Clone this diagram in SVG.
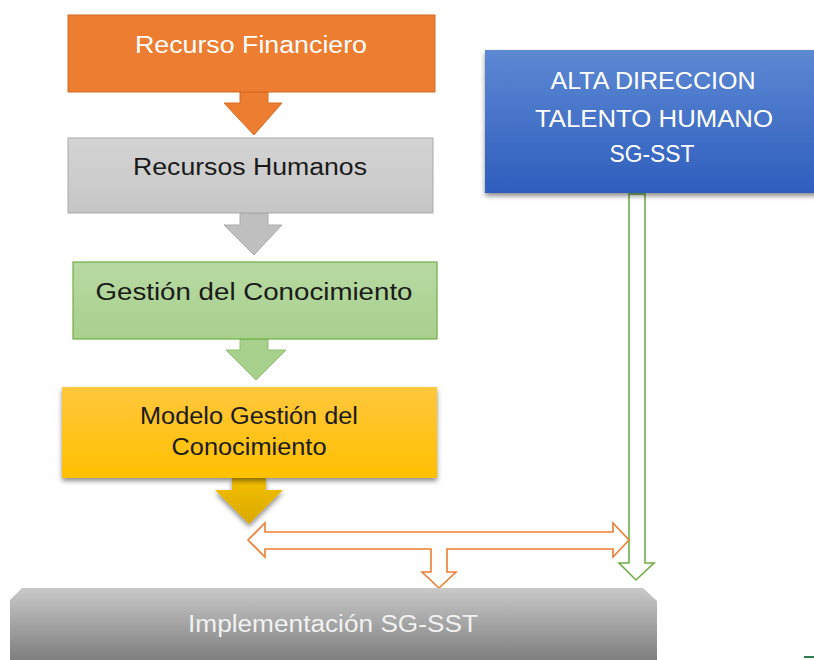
<svg xmlns="http://www.w3.org/2000/svg" width="814" height="660" viewBox="0 0 814 660">
<defs>
<linearGradient id="gGreen" x1="0" y1="0" x2="0" y2="1"><stop offset="0" stop-color="#B7D9A2"/><stop offset="1" stop-color="#A8D08D"/></linearGradient>
<linearGradient id="gYellow" x1="0" y1="0" x2="0" y2="1"><stop offset="0" stop-color="#FFC73D"/><stop offset="1" stop-color="#FFC000"/></linearGradient>
<linearGradient id="gYArrow" x1="0" y1="0" x2="0" y2="1"><stop offset="0" stop-color="#F3BF00"/><stop offset="1" stop-color="#D9A900"/></linearGradient>
<linearGradient id="gBlue" x1="0" y1="0" x2="0" y2="1"><stop offset="0" stop-color="#5D88D3"/><stop offset="1" stop-color="#2E5EBD"/></linearGradient>
<linearGradient id="gImpl" x1="0" y1="0" x2="0" y2="1"><stop offset="0" stop-color="#C9C9C9"/><stop offset="1" stop-color="#7F7F7F"/></linearGradient>
<linearGradient id="gGray" x1="0" y1="0" x2="0" y2="1"><stop offset="0" stop-color="#D4D4D4"/><stop offset="1" stop-color="#C6C6C6"/></linearGradient>
<filter id="sh" x="-10%" y="-10%" width="120%" height="130%"><feDropShadow dx="0" dy="3" stdDeviation="2.5" flood-color="#000" flood-opacity="0.45"/></filter>
</defs>
<style>
.t{font-family:"Liberation Sans",Arial,sans-serif;font-size:23px;text-anchor:middle}
.w{fill:#FFFFFF}
.k{fill:#1A1A1A}
.lw{fill:#F2F2F2}
</style>
<g id="connectors">
<path d="M240,92 H268 V103 H282 L254,135 L224,103 H240 Z" fill="#ED7D31" stroke="#D86D25" stroke-width="1"/>
<path d="M240,213 H268 V225 H282 L254,255 L224,225 H240 Z" fill="#BFBFBF" stroke="#ABABAB" stroke-width="1"/>
<path d="M240,339 H268 V350 H286 L256,380 L226,350 H240 Z" fill="#A8D08D" stroke="#8CBF6C" stroke-width="1"/>
<path d="M232,478 H266 V490 H283 L249,524 L215,490 H232 Z" fill="url(#gYArrow)" filter="url(#sh)"/>
<path d="M629,194 H645 V563 H654 L636,580 L619,563 H629 Z" fill="#FFFFFF" stroke="#70AD47" stroke-width="1.6"/>
<path d="M248,540 L265,523 V532 H613 V523 L629,540 L613,557 V549 H447 V572 H456 L439,588 L422,572 H431 V549 H265 V557 Z" fill="#FFFFFF" stroke="#ED7D31" stroke-width="1.6" stroke-linejoin="miter"/>
</g>
<g id="recurso-financiero">
<rect x="68" y="15" width="367" height="77" fill="#ED7D31" stroke="#D46A22" stroke-width="1"/>
<text class="t w" x="251" y="53" textLength="232" lengthAdjust="spacingAndGlyphs">Recurso Financiero</text>
</g>
<g id="recursos-humanos">
<rect x="68" y="138" width="365" height="75" fill="url(#gGray)" stroke="#A9A9A9" stroke-width="1"/>
<text class="t k" x="250" y="175" textLength="234" lengthAdjust="spacingAndGlyphs">Recursos Humanos</text>
</g>
<g id="gestion-conocimiento">
<rect x="73" y="262" width="364" height="77" fill="url(#gGreen)" stroke="#70AD47" stroke-width="1.2"/>
<text class="t k" x="254" y="300" textLength="317" lengthAdjust="spacingAndGlyphs">Gestión del Conocimiento</text>
</g>
<g id="modelo-gestion">
<rect x="62" y="387" width="375" height="91" fill="url(#gYellow)" filter="url(#sh)"/>
<text class="t k" x="249" y="424" font-size="22" textLength="218" lengthAdjust="spacingAndGlyphs">Modelo Gestión del</text>
<text class="t k" x="249" y="455" font-size="22" textLength="155" lengthAdjust="spacingAndGlyphs">Conocimiento</text>
</g>
<g id="alta-direccion">
<rect x="485" y="50" width="340" height="143" fill="url(#gBlue)" filter="url(#sh)"/>
<text class="t w" x="653" y="89" textLength="205" lengthAdjust="spacingAndGlyphs">ALTA DIRECCION</text>
<text class="t w" x="654" y="127" textLength="238" lengthAdjust="spacingAndGlyphs">TALENTO HUMANO</text>
<text class="t w" x="652" y="162" textLength="85" lengthAdjust="spacingAndGlyphs">SG-SST</text>
</g>
<g id="implementacion">
<path d="M22,588 H643 L657,601 V660 H10 V600 Z" fill="url(#gImpl)"/>
<text class="t lw" x="333" y="632" textLength="290" lengthAdjust="spacingAndGlyphs">Implementación SG-SST</text>
</g>
<rect x="804" y="656" width="10" height="2" fill="#2E7D4F"/>
</svg>
